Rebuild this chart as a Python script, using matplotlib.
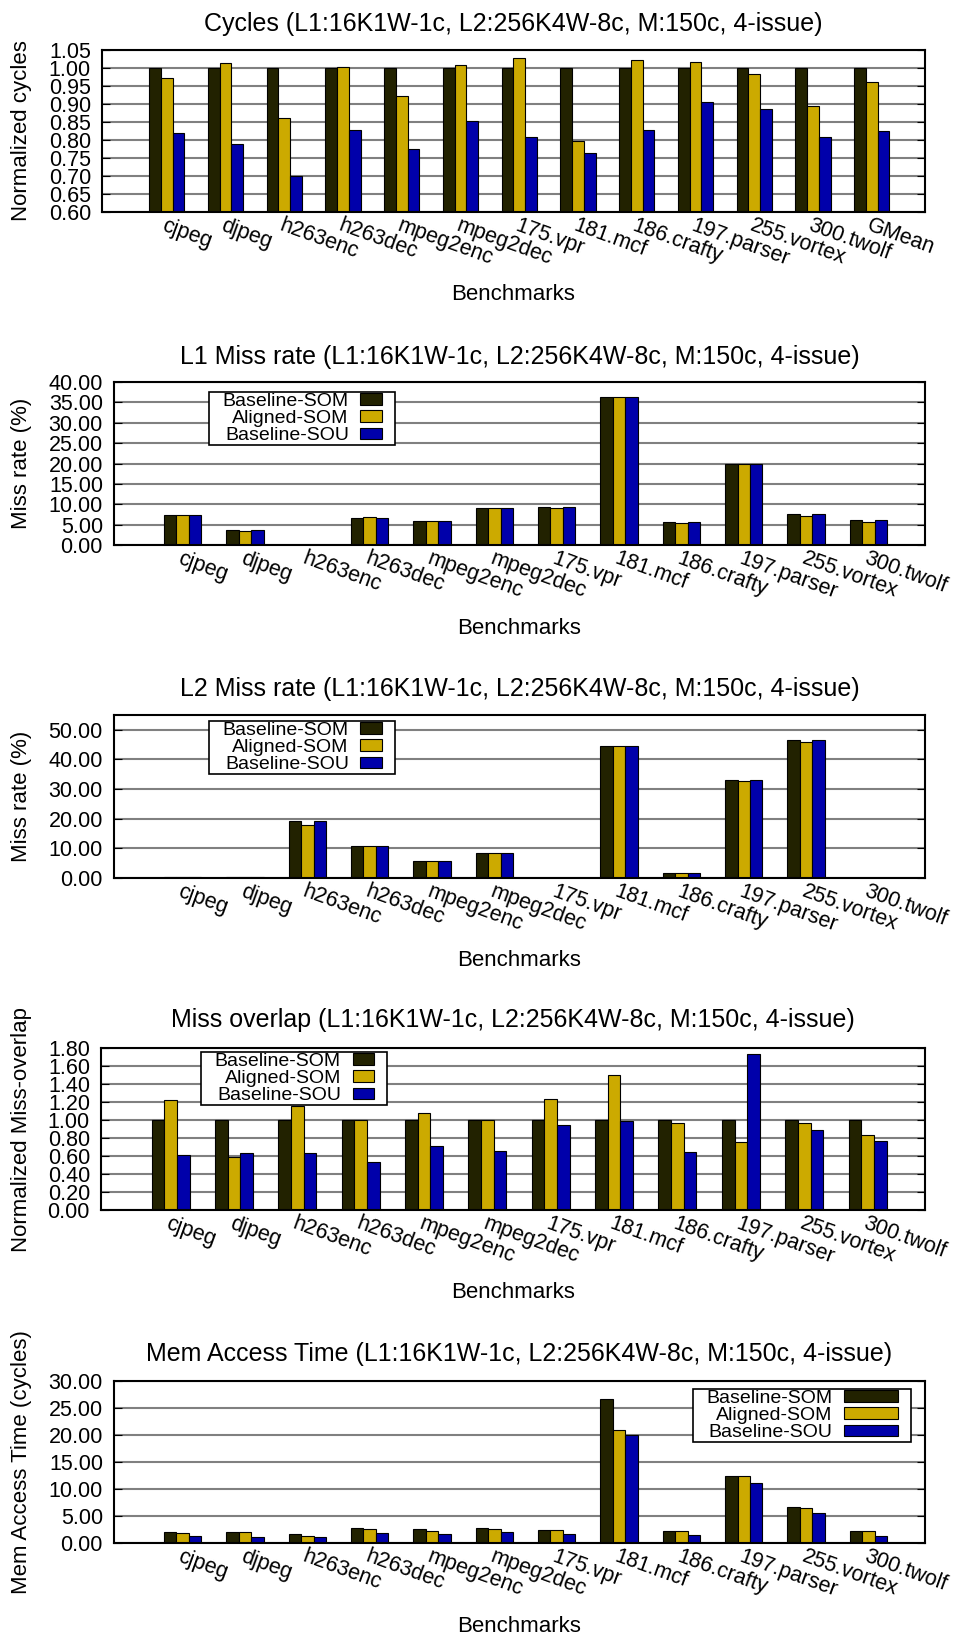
import numpy as np
import matplotlib
matplotlib.use('Agg')
import matplotlib.pyplot as plt
from matplotlib.path import Path

plt.rcParams['font.family'] = ['Liberation Sans', 'DejaVu Sans']

benchmarks = ['cjpeg', 'djpeg', 'h263enc', 'h263dec', 'mpeg2enc', 'mpeg2dec', '175.vpr',
              '181.mcf', '186.crafty', '197.parser', '255.vortex', '300.twolf']
cycle_labels = benchmarks + ['GMean']
series = ['Baseline-SOM', 'Aligned-SOM', 'Baseline-SOU']
colors = ['#222200', '#ccaa00', '#0000aa']

# normalized cycles
cyc_base = [1.00, 1.00, 1.00, 1.00, 1.00, 1.00, 1.00, 1.00, 1.00, 1.00, 1.00, 1.00, 1.00]
cyc_aligned = [0.971, 1.013, 0.860, 1.004, 0.923, 1.007, 1.029, 0.796, 1.023, 1.018, 0.984, 0.894, 0.960]
cyc_sou = [0.819, 0.788, 0.701, 0.827, 0.775, 0.853, 0.808, 0.763, 0.827, 0.905, 0.886, 0.807, 0.824]

# L1 miss rate (%)
l1_base = [7.4, 3.7, 0.0, 6.6, 5.8, 9.0, 9.3, 36.4, 5.7, 19.9, 7.6, 6.1]
l1_aligned = [7.3, 3.5, 0.0, 6.9, 5.8, 9.0, 9.0, 36.4, 5.5, 19.9, 7.2, 5.6]
l1_sou = [7.4, 3.7, 0.0, 6.6, 5.8, 9.0, 9.3, 36.4, 5.7, 19.9, 7.6, 6.1]

# L2 miss rate (%)
l2_base = [0.2, 0.4, 19.4, 10.9, 5.9, 8.6, 0.05, 44.5, 1.8, 33.0, 46.7, 0.0]
l2_aligned = [0.2, 0.4, 17.9, 10.9, 5.6, 8.6, 0.05, 44.5, 1.8, 32.7, 45.8, 0.0]
l2_sou = [0.2, 0.4, 19.4, 10.9, 5.9, 8.6, 0.05, 44.5, 1.8, 33.0, 46.7, 0.0]

# normalized miss overlap
ov_base = [1.00, 1.00, 1.00, 1.00, 1.00, 1.00, 1.00, 1.00, 1.00, 1.00, 1.00, 1.00]
ov_aligned = [1.223, 0.584, 1.153, 1.00, 1.083, 1.005, 1.238, 1.504, 0.972, 0.758, 0.972, 0.828]
ov_sou = [0.606, 0.628, 0.628, 0.536, 0.710, 0.661, 0.942, 0.994, 0.650, 1.730, 0.894, 0.772]

# mem access time (cycles)
mat_base = [2.10, 1.98, 1.60, 2.78, 2.53, 2.84, 2.47, 26.7, 2.28, 12.47, 6.73, 2.28]
mat_aligned = [1.91, 2.10, 1.30, 2.65, 2.22, 2.65, 2.47, 20.86, 2.16, 12.47, 6.54, 2.22]
mat_sou = [1.36, 1.17, 1.05, 1.91, 1.73, 2.10, 1.60, 19.94, 1.54, 11.05, 5.62, 1.36]

W, H = 954, 1636
TICK_FS = 15.5
LABEL_FS = 16
TITLE_FS = 18
LEG_FS = 14


def legend_frame(x0, y0, width, height, mutation_size):
    # gnuplot style key box: wide on the sides, tight on top/bottom
    px = 0.68 * mutation_size
    py = 0.03 * mutation_size
    return Path([(x0 - px, y0 - py), (x0 + width + px, y0 - py),
                 (x0 + width + px, y0 + height + py), (x0 - px, y0 + height + py),
                 (x0 - px, y0 - py)], closed=True)


def add_axes_px(fig, left, top, bottom, right=925):
    return fig.add_axes([left / W, 1 - bottom / H, (right - left) / W, (bottom - top) / H])


def panel(ax, labels, data, title, ylabel, ylim, yticks, title_pad, legend=None):
    x = np.arange(len(labels))
    for i, (vals, col, name) in enumerate(zip(data, colors, series)):
        ax.bar(x + (i - 1) * 0.2, vals, 0.2, color=col, edgecolor='black',
               linewidth=0.8, label=name, zorder=2)
    ax.set_xlim(-1.1, len(labels) - 1 + 0.907)
    ax.set_ylim(*ylim)
    ax.set_yticks(yticks)
    ax.set_yticklabels(['%.2f' % v for v in yticks])
    ax.set_axisbelow(True)
    ax.yaxis.grid(True, color='#808080', linewidth=1.5)
    ax.set_xticks(x)
    ax.set_xticklabels(labels, rotation=-20, ha='left', va='top', rotation_mode='anchor')
    ax.tick_params(axis='x', length=0, pad=2, labelsize=TICK_FS)
    ax.tick_params(axis='y', direction='in', length=6, right=True, labelsize=TICK_FS, pad=8)
    for s in ax.spines.values():
        s.set_linewidth(1.5)
    ax.set_title(title, fontsize=TITLE_FS, pad=title_pad)
    ax.set_xlabel('Benchmarks', fontsize=LABEL_FS, va='center')
    pos = ax.get_position()
    hpx = pos.height * H
    wpx = pos.width * W
    ax.xaxis.set_label_coords(0.5, -83 / hpx)
    ax.set_ylabel(ylabel, fontsize=LABEL_FS)
    ax.yaxis.set_label_coords((32 - pos.x0 * W) / wpx, 0.5)
    if legend is not None:
        loc, anchor, hl = legend
        leg = ax.legend(loc=loc, bbox_to_anchor=anchor, markerfirst=False, fontsize=LEG_FS,
                        handlelength=hl, handleheight=0.55, handletextpad=0.6,
                        labelspacing=0.02, borderpad=0, fancybox=False,
                        edgecolor='black', framealpha=1, borderaxespad=0)
        leg.get_frame().set_boxstyle(legend_frame)
        leg.get_frame().set_linewidth(1.2)


fig = plt.figure(figsize=(W / 100, H / 100), dpi=100)

sub = '(L1:16K1W-1c, L2:256K4W-8c, M:150c, 4-issue)'

ax1 = add_axes_px(fig, 102, 50, 212)
panel(ax1, cycle_labels, [cyc_base, cyc_aligned, cyc_sou], 'Cycles ' + sub,
      'Normalized cycles', (0.60, 1.05), np.arange(0.60, 1.051, 0.05), 13.5)

ax2 = add_axes_px(fig, 114, 382, 545)
panel(ax2, benchmarks, [l1_base, l1_aligned, l1_sou], 'L1 Miss rate ' + sub,
      'Miss rate (%)', (0, 40), np.arange(0, 40.1, 5), 13,
      ('upper left', (0.134, 0.935), 1.1))

ax3 = add_axes_px(fig, 114, 715, 878)
panel(ax3, benchmarks, [l2_base, l2_aligned, l2_sou], 'L2 Miss rate ' + sub,
      'Miss rate (%)', (0, 55), np.arange(0, 50.1, 10), 13.5,
      ('upper left', (0.134, 0.959), 1.1))

ax4 = add_axes_px(fig, 101, 1048, 1210)
panel(ax4, benchmarks, [ov_base, ov_aligned, ov_sou], 'Miss overlap ' + sub,
      'Normalized Miss-overlap', (0, 1.8), np.arange(0, 1.81, 0.2), 15,
      ('upper left', (0.138, 0.971), 1.1))

ax5 = add_axes_px(fig, 114, 1381, 1543)
panel(ax5, benchmarks, [mat_base, mat_aligned, mat_sou], 'Mem Access Time ' + sub,
      'Mem Access Time (cycles)', (0, 30), np.arange(0, 30.1, 5), 14.5,
      ('upper right', (0.967, 0.947), 2.8))

fig.savefig('out.png', dpi=100)
